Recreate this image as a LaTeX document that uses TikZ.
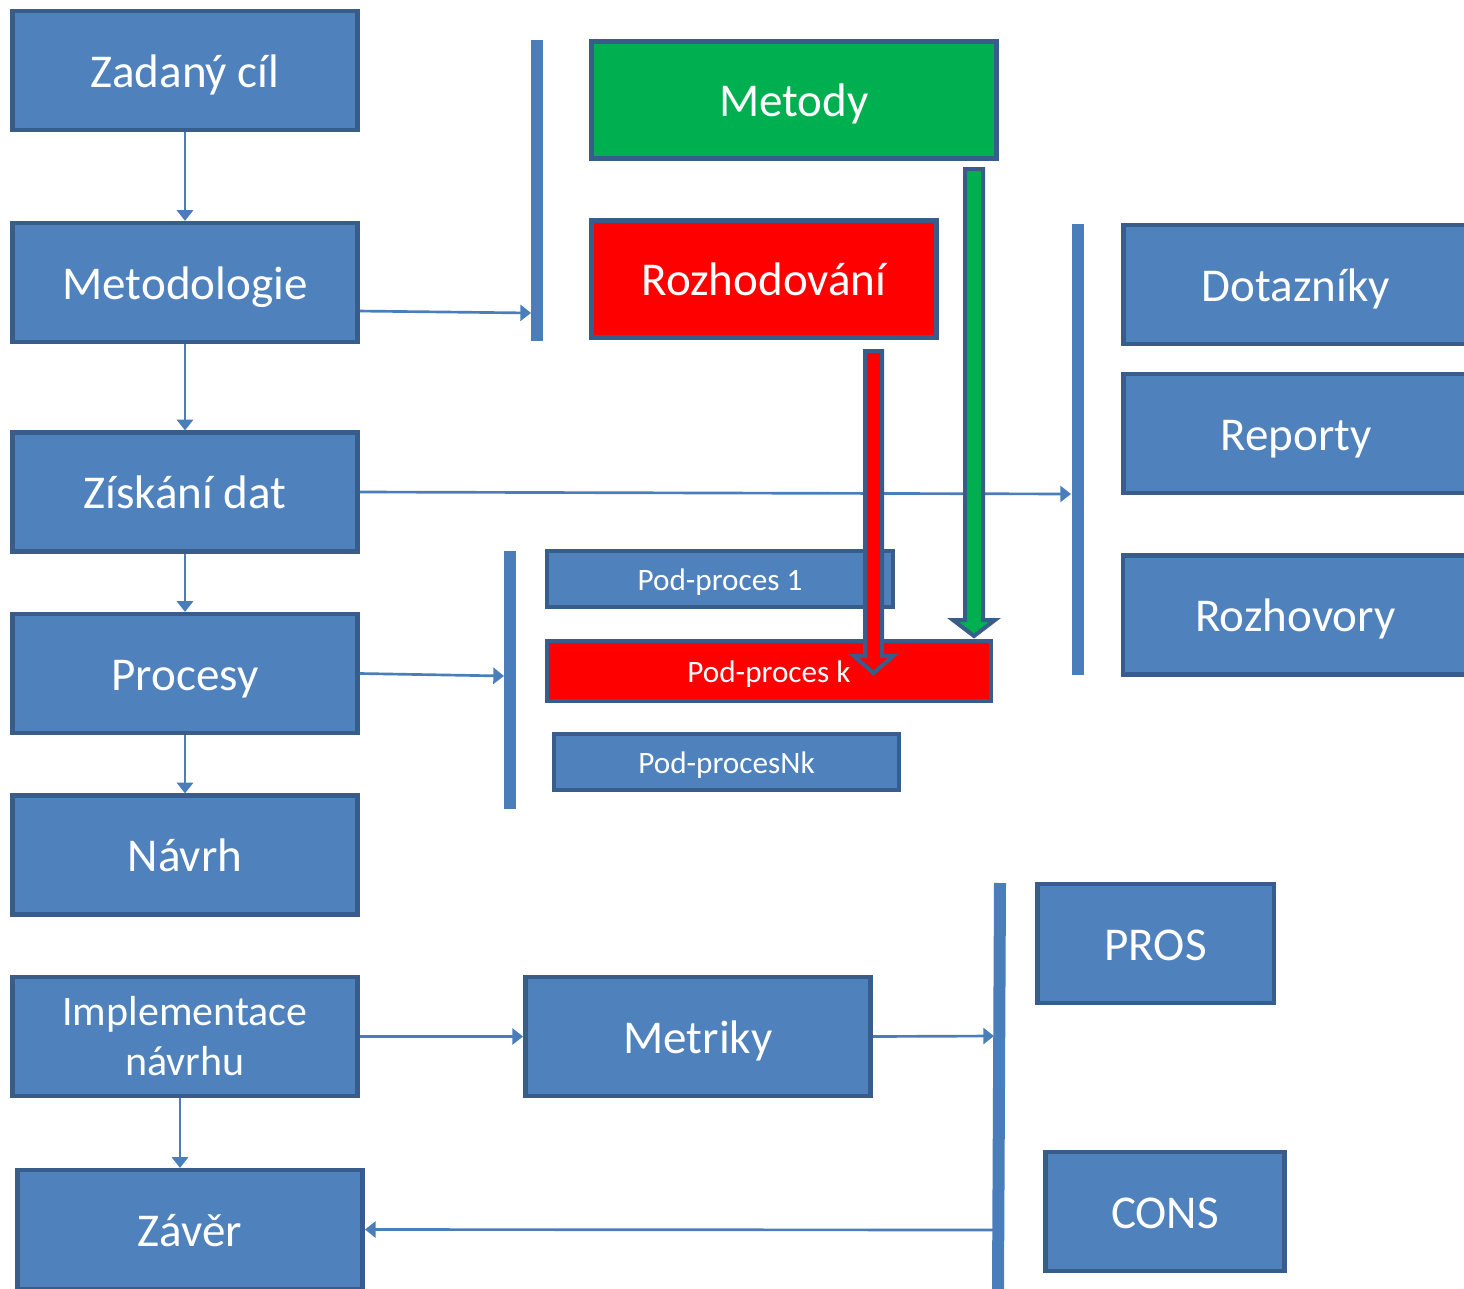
\documentclass[tikz,border=0pt]{standalone}
\usepackage{fontspec}
\setmainfont{Carlito}
\usetikzlibrary{arrows.meta}

\definecolor{boxfill}{HTML}{4F81BD}
\definecolor{boxline}{HTML}{385D8A}
\definecolor{barblue}{HTML}{4A7EBB}
\definecolor{metgreen}{HTML}{00B050}

\begin{document}
\begin{tikzpicture}[x=0.75pt,y=-0.75pt,
		bar/.style={draw=barblue,line width=9pt},
		blockarrow/.style={draw=boxline,line width=3pt,line join=miter}]
	\clip (0,0) rectangle (1464,1289);
	\fill[white] (0,0) rectangle (1464,1289);

	% main boxes
	\begin{scope}[every node/.style={rectangle,draw=boxline,line width=3.4pt,fill=boxfill,text=white,inner sep=0pt,
			minimum width=259pt,minimum height=89pt,align=center,text height=25.5pt,text depth=0.5pt,
			font=\fontsize{35.3}{42}\selectfont}]
		\node (zadany) at (185,70.5) {Zadaný cíl};
		\node (metodologie) at (185,282.5) {Metodologie};
		\node (ziskani) at (185,492) {Získání dat};
		\node (procesy) at (185,673.5) {Procesy};
		\node (navrh) at (185,855) {Návrh};
		\node[text height=,text depth=,font=\fontsize{31.5}{37.5}\selectfont] (implementace) at (185,1036.5) {Implementace\\návrhu};
		\node (zaver) at (190,1229.5) {Závěr};

		\node[fill=metgreen,minimum width=304pt,minimum height=88pt] (metody) at (794,100) {Metody};
		\node[fill=red,minimum height=88pt] (rozhodovani) at (764,279) {Rozhodování};

		\node (dotazniky) at (1296,284.5) {Dotazníky};
		\node (reporty) at (1296,433.5) {Reporty};
		\node (rozhovory) at (1295.5,615) {Rozhovory};

		\node (metriky) at (698,1036.5) {Metriky};
		\node[minimum width=177.4pt] (pros) at (1155.5,943.5) {PROS};
		\node[minimum width=179.6pt] (cons) at (1165,1211.5) {CONS};
	\end{scope}

	% sub-processes
	\begin{scope}[every node/.style={rectangle,draw=boxline,line width=3.2pt,fill=boxfill,text=white,inner sep=0pt,
			minimum width=259pt,minimum height=41.6pt,text height=17.5pt,text depth=0.5pt,
			font=\fontsize{23.4}{28}\selectfont}]
		\node (pod1) at (720,579) {Pod-proces 1};
		\node[fill=red,minimum width=332.6pt,minimum height=44.6pt] (podk) at (769,671) {Pod-proces k};
		\node (podn) at (726.5,762) {Pod-procesNk};
	\end{scope}

	% bars
	\draw[bar] (537,40) -- (537,341);
	\draw[bar] (1077.5,224) -- (1077.5,675);
	\draw[bar] (510,551) -- (510,809);
	\draw[bar] (1000,883) -- (998,1289);

	\coordinate (b1) at (531,313);
	\coordinate (b2) at (1071,494);
	\coordinate (b3) at (504,676);
	\coordinate (b4) at (994,1036);
	\coordinate (b4out) at (993,1230);

	% connectors
	\begin{scope}[every edge/.style={draw=barblue,line width=2pt}]
		\path [-{Triangle[length=8pt,width=12pt]}]
			(zadany) edge (metodologie)
			(metodologie) edge (ziskani)
			(ziskani) edge (procesy)
			(procesy) edge (navrh)
			([xshift=-3.75pt]implementace.south) edge ([xshift=-7.5pt]zaver.north)
			([yshift=-21.4pt]metodologie.east) edge (b1)
			(ziskani.east) edge (b2)
			(procesy.east) edge (b3)
			(implementace) edge (metriky)
			(metriky.east) edge (b4)
			(b4out) edge (zaver.east);
	\end{scope}

	% block arrows
	\draw[blockarrow,fill=metgreen] (965,169) -- (983,169) -- (983,620) -- (995,620) -- (974,636)
		-- (953,620) -- (965,620) -- cycle;
	\draw[blockarrow,fill=red] (865,351) -- (882,351) -- (882,656) -- (893,656) -- (873.5,673)
		-- (854,656) -- (865,656) -- cycle;
\end{tikzpicture}
\end{document}
